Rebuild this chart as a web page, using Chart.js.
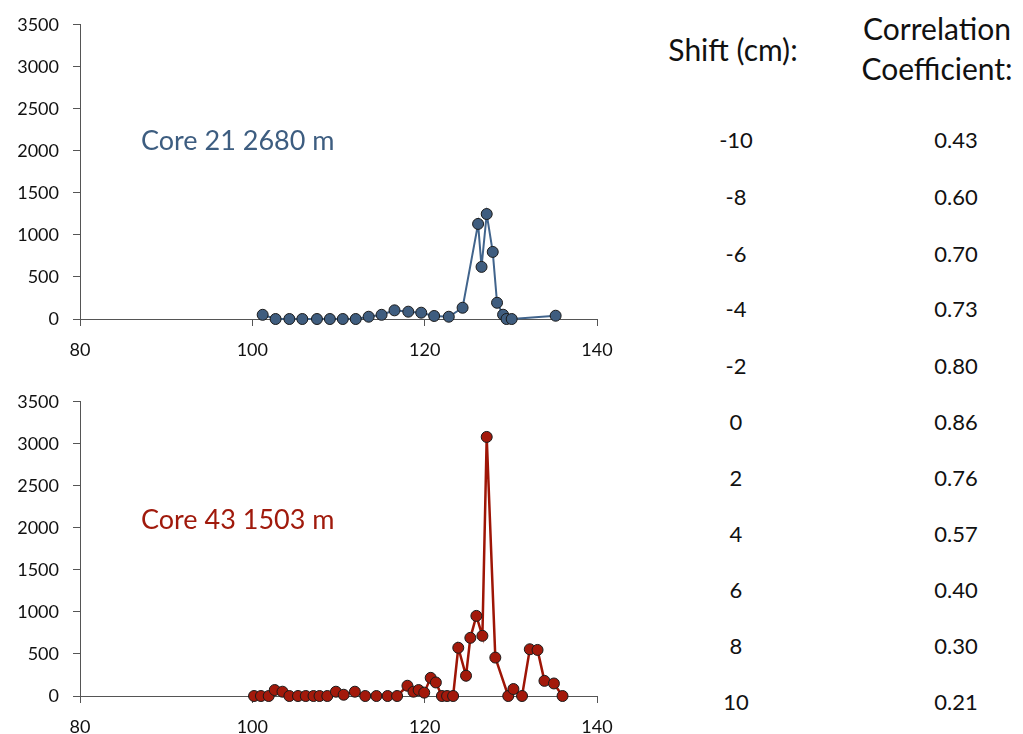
<!DOCTYPE html>
<html>
<head>
<meta charset="utf-8">
<script src="https://cdn.jsdelivr.net/npm/chart.js@4/dist/chart.umd.min.js"></script>
<style>
  body { margin: 0; background: #fff; width: 1023px; height: 734px; overflow: hidden; position: relative; font-family: Lato, "Open Sans", sans-serif; }
  canvas { position: absolute; left: 0; }
  #top { top: 0; }
  #bottom { top: 377px; }
  .core { position: absolute; left: 141px; font-size: 27px; white-space: nowrap; line-height: 1; }
  .hdr { position: absolute; font-size: 30px; color: #111; text-align: center; line-height: 40px; white-space: nowrap; }
  .cell { position: absolute; font-size: 22px; color: #111; text-align: center; width: 80px; line-height: 1; }
</style>
</head>
<body>
<canvas id="top" width="640" height="370"></canvas>
<canvas id="bottom" width="640" height="357"></canvas>

<div class="core" style="top:126px; color:#3d5d80;">Core 21 2680 m</div>
<div class="core" style="top:505px; color:#a01a0c;">Core 43 1503 m</div>

<div class="hdr" style="left:663px; top:29px; width:140px;">Shift (cm):</div>
<div class="hdr" style="left:857px; top:8px; width:160px;">Correlation<br>Coefficient:</div>
<div id="table"></div>

<script>
// depth (cm) and counts, Core 21
var core21Depth = [101.2, 102.7, 104.3, 105.8, 107.5, 109.0, 110.5, 112.0, 113.5, 115.0, 116.5, 118.1, 119.6, 121.1, 122.8, 124.4, 126.2, 126.6, 127.2, 127.9, 128.4, 129.1, 129.5, 130.1, 135.2];
var core21Count = [50, 0, 0, 0, 0, 0, 0, 0, 27, 50, 103, 87, 75, 36, 27, 134, 1131, 620, 1249, 798, 193, 51, 0, 0, 39];

// depth (cm) and counts, Core 43
var core43Depth = [100.2, 101.0, 101.9, 102.6, 103.5, 104.3, 105.3, 106.2, 107.1, 107.8, 108.7, 109.7, 110.6, 111.9, 113.1, 114.4, 115.7, 116.8, 118.0, 118.7, 119.3, 119.95, 120.7, 121.3, 122.0, 122.6, 123.3, 123.9, 124.8, 125.3, 126.0, 126.7, 127.2, 128.2, 129.7, 130.3, 131.3, 132.2, 133.1, 133.9, 135.0, 136.0];
var core43Count = [0, 0, 0, 71, 51, 0, 0, 0, 0, 0, 0, 51, 15, 51, 0, 0, 0, 0, 122, 51, 71, 40, 216, 161, 0, 0, 0, 574, 241, 692, 953, 716, 3082, 457, 0, 83, 0, 556, 548, 180, 149, 0];

// correlation table
var shifts = ["-10", "-8", "-6", "-4", "-2", "0", "2", "4", "6", "8", "10"];
var coefficients = ["0.43", "0.60", "0.70", "0.73", "0.80", "0.86", "0.76", "0.57", "0.40", "0.30", "0.21"];
var rowTops = [129, 186, 243, 298, 355, 411, 467, 523, 579, 635, 691];

var xTicks = [80, 100, 120, 140];

function toPoints(xs, ys) {
    var pts = [];
    for (var i = 0; i < xs.length; i++) pts.push({x: xs[i], y: ys[i]});
    return pts;
}

function makeChart(id, xs, ys, lineColor, dotColor, lineWidth, axisHeight) {
    var ctx = document.getElementById(id).getContext("2d");
    return new Chart(ctx, {
        type: 'scatter',
        data: {
            datasets: [{
                data: toPoints(xs, ys),
                showLine: true,
                borderColor: lineColor,
                borderWidth: lineWidth,
                backgroundColor: dotColor,
                pointBackgroundColor: dotColor,
                pointBorderColor: '#1b1b1b',
                pointBorderWidth: 1,
                pointRadius: 5.5,
                clip: false
            }]
        },
        options: {
            responsive: false,
            animation: false,
            devicePixelRatio: 1,
            layout: { padding: { top: 24, right: 43, left: 0, bottom: 0 } },
            plugins: { legend: { display: false }, tooltip: { enabled: false } },
            scales: {
                x: {
                    type: 'linear',
                    min: 80, max: 140,
                    afterBuildTicks: function(s) { s.ticks = xTicks.map(function(v) { return {value: v}; }); },
                    afterFit: function(s) { s.height = axisHeight; },
                    grid: { drawOnChartArea: false, drawTicks: true, tickLength: 7, color: '#555' },
                    border: { color: '#555', width: 1 },
                    ticks: { color: '#111', padding: 13, maxRotation: 0, font: { family: 'Lato', size: 18 },
                             callback: function(v) { return String(v); } }
                },
                y: {
                    min: 0, max: 3500,
                    ticks: { stepSize: 500, color: '#111', padding: 14, font: { family: 'Lato', size: 18 },
                             callback: function(v) { return String(v); } },
                    afterFit: function(s) { s.width = 80; },
                    grid: { drawOnChartArea: false, drawTicks: true, tickLength: 7, color: '#555' },
                    border: { color: '#555', width: 1 }
                }
            }
        }
    });
}

makeChart("top", core21Depth, core21Count, '#41648c', '#3f5d7f', 2, 51);
makeChart("bottom", core43Depth, core43Count, '#9e1506', '#a3190b', 2.5, 38);

var html = "";
for (var i = 0; i < shifts.length; i++) {
    html += "<div class='cell' style='left:696px; top:" + rowTops[i] + "px'>" + shifts[i] + "</div>";
    html += "<div class='cell' style='left:916px; top:" + rowTops[i] + "px'>" + coefficients[i] + "</div>";
}
document.getElementById("table").innerHTML = html;
</script>
</body>
</html>
